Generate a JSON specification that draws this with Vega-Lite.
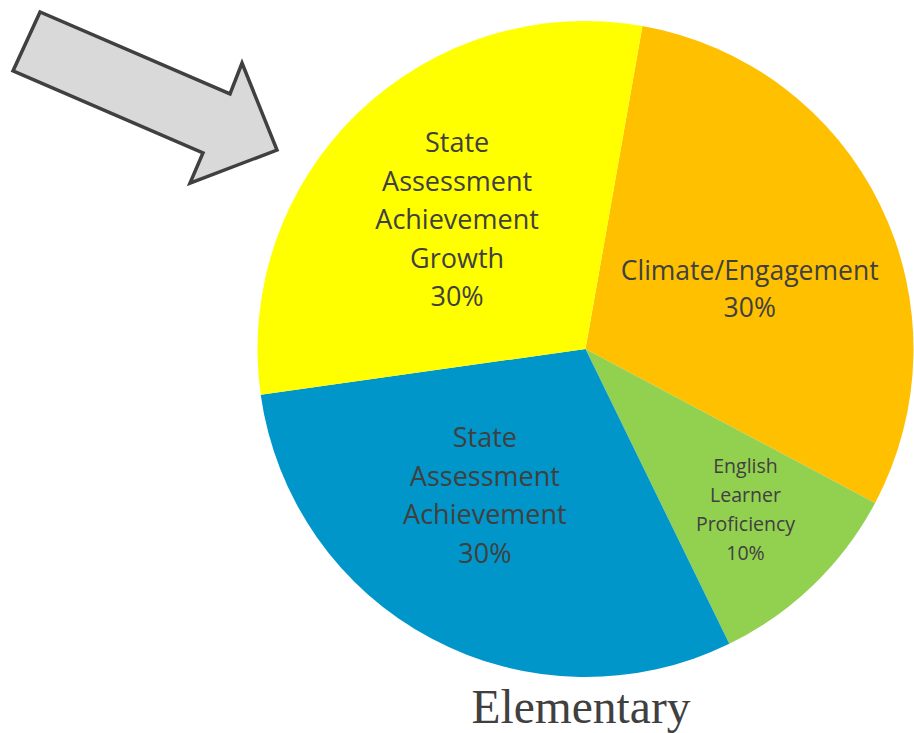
{
  "$schema": "https://vega.github.io/schema/vega-lite/v6.json",
  "width": 914,
  "height": 733,
  "autosize": "none",
  "padding": 0,
  "background": "white",
  "config": {"view": {"stroke": null}},
  "data": {"values": [
    {"cat": "Climate/Engagement", "value": 30, "order": 1, "label": "Climate/Engagement\n30%"},
    {"cat": "English Learner Proficiency", "value": 10, "order": 2, "label": "English\nLearner\nProficiency\n10%"},
    {"cat": "State Assessment Achievement", "value": 30, "order": 3, "label": "State\nAssessment\nAchievement\n30%"},
    {"cat": "State Assessment Achievement Growth", "value": 30, "order": 4, "label": "State\nAssessment\nAchievement\nGrowth\n30%"}
  ]},
  "resolve": {"scale": {"x": "shared", "y": "shared", "theta": "shared"}},
  "layer": [
    {
      "mark": {"type": "arc", "radius": 328},
      "encoding": {
        "x": {"datum": 585.5, "type": "quantitative", "scale": {"domain": [0, 914], "nice": false, "zero": false}, "axis": null},
        "y": {"datum": 349, "type": "quantitative", "scale": {"domain": [0, 733], "nice": false, "zero": false, "reverse": true}, "axis": null},
        "theta": {"field": "value", "type": "quantitative", "stack": true, "scale": {"range": [0.1745, 6.4577]}},
        "order": {"field": "order", "type": "quantitative"},
        "color": {"field": "cat", "type": "nominal", "legend": null,
          "scale": {"domain": ["Climate/Engagement", "English Learner Proficiency", "State Assessment Achievement", "State Assessment Achievement Growth"],
                    "range": ["#FFC000", "#92D050", "#0096C9", "#FFFF00"]}}
      }
    },
    {
      "mark": {"type": "text", "radius": 182, "font": "Open Sans", "fontSize": 27, "lineHeight": 38.5, "lineBreak": "\n", "fill": "#404040", "align": "center", "baseline": "middle", "dx": -2, "dy": -74},
      "encoding": {
        "x": {"datum": 585.5, "type": "quantitative"},
        "y": {"datum": 349, "type": "quantitative"},
        "theta": {"field": "value", "type": "quantitative", "stack": true},
        "order": {"field": "order", "type": "quantitative"},
        "detail": {"field": "cat", "type": "nominal"},
        "text": {"condition": {"test": "datum.cat == 'State Assessment Achievement Growth'", "field": "label"}, "value": ""}
      }
    },
    {
      "mark": {"type": "text", "radius": 176, "font": "Open Sans", "fontSize": 26.5, "lineHeight": 37, "lineBreak": "\n", "fill": "#404040", "align": "center", "baseline": "middle", "dx": 6, "dy": 0},
      "encoding": {
        "x": {"datum": 585.5, "type": "quantitative"},
        "y": {"datum": 349, "type": "quantitative"},
        "theta": {"field": "value", "type": "quantitative", "stack": true},
        "order": {"field": "order", "type": "quantitative"},
        "detail": {"field": "cat", "type": "nominal"},
        "text": {"condition": {"test": "datum.cat == 'Climate/Engagement'", "field": "label"}, "value": ""}
      }
    },
    {
      "mark": {"type": "text", "radius": 176, "font": "Open Sans", "fontSize": 27, "lineHeight": 38.5, "lineBreak": "\n", "fill": "#404040", "align": "center", "baseline": "middle", "dx": -18, "dy": -65},
      "encoding": {
        "x": {"datum": 585.5, "type": "quantitative"},
        "y": {"datum": 349, "type": "quantitative"},
        "theta": {"field": "value", "type": "quantitative", "stack": true},
        "order": {"field": "order", "type": "quantitative"},
        "detail": {"field": "cat", "type": "nominal"},
        "text": {"condition": {"test": "datum.cat == 'State Assessment Achievement'", "field": "label"}, "value": ""}
      }
    },
    {
      "mark": {"type": "text", "radius": 226, "font": "Open Sans", "fontSize": 19.5, "lineHeight": 29, "lineBreak": "\n", "fill": "#404040", "align": "center", "baseline": "middle", "dx": 3, "dy": -45},
      "encoding": {
        "x": {"datum": 585.5, "type": "quantitative"},
        "y": {"datum": 349, "type": "quantitative"},
        "theta": {"field": "value", "type": "quantitative", "stack": true},
        "order": {"field": "order", "type": "quantitative"},
        "detail": {"field": "cat", "type": "nominal"},
        "text": {"condition": {"test": "datum.cat == 'English Learner Proficiency'", "field": "label"}, "value": ""}
      }
    },
    {
      "data": {"values": [{"name": "arrow"}]},
      "mark": {"type": "point", "filled": true, "opacity": 1, "fill": "#D9D9D9", "stroke": "#404040", "strokeWidth": 3.5, "strokeJoin": "miter",
        "shape": "M-0.795,-0.648L-1,-0.201L0.439,0.42L0.341,0.648L1,0.398L0.735,-0.261L0.644,-0.027Z", "size": 69696},
      "encoding": {
        "x": {"datum": 145, "type": "quantitative"},
        "y": {"datum": 97.5, "type": "quantitative"}
      }
    },
    {
      "data": {"values": [{"name": "Elementary"}]},
      "mark": {"type": "text", "font": "Liberation Serif", "fontSize": 47.5, "fill": "#404040", "align": "center", "baseline": "alphabetic"},
      "encoding": {
        "x": {"datum": 581, "type": "quantitative"},
        "y": {"datum": 723, "type": "quantitative"},
        "text": {"field": "name", "type": "nominal"}
      }
    }
  ]
}
